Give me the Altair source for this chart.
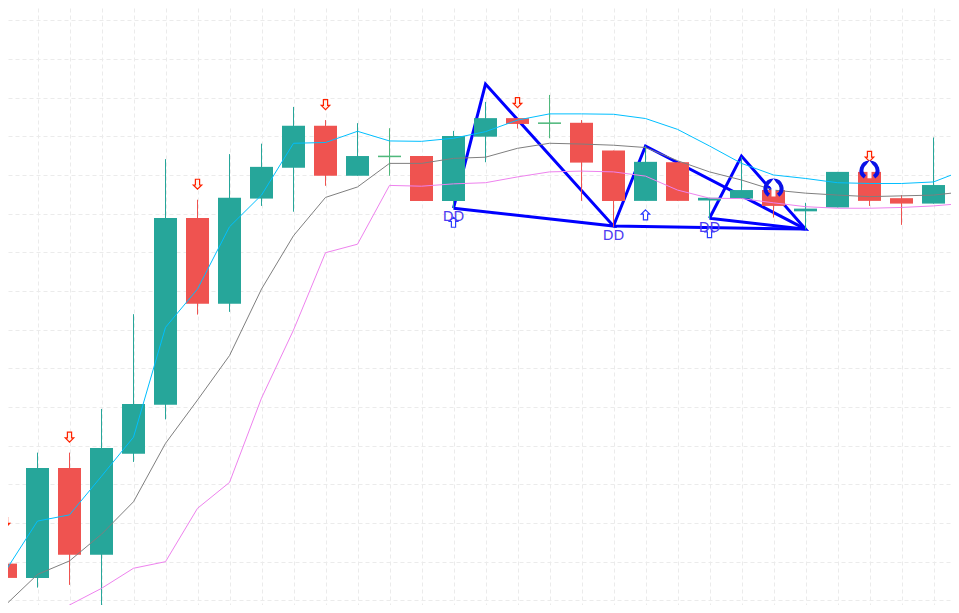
import altair as alt
import pandas as pd

# ---------------- data ----------------
idx = list(range(31))
opens  = [100.95, 100.58, 103.42, 101.18, 103.79, 105.06, 109.89, 107.67, 110.39, 111.19,
          112.27, 110.98, 111.46, 111.49, 110.33, 111.99, 112.47, 112.32, 112.35, 111.63,
          110.33, 111.33, 110.34, 110.39, 110.61, 110.06, 110.16, 111.08, 110.40, 110.26, 110.74]
highs  = [101.61, 103.82, 103.82, 104.95, 107.40, 111.41, 110.36, 111.54, 111.81, 112.76,
          112.42, 112.34, 112.21, 111.49, 112.14, 112.89, 112.47, 113.07, 112.42, 111.63,
          111.75, 111.33, 110.41, 111.46, 110.61, 110.28, 111.08, 111.08, 110.48, 111.97, 110.97]
lows   = [100.47, 100.33, 100.40, 99.75, 103.58, 104.68, 107.39, 107.46, 110.20, 110.05,
          110.72, 110.98, 110.98, 110.33, 110.14, 111.33, 112.20, 111.95, 110.33, 109.66,
          110.33, 110.33, 109.87, 110.39, 109.90, 109.59, 110.16, 110.20, 109.71, 110.26, 110.74]
closes = [100.58, 103.42, 101.18, 103.94, 105.08, 109.89, 107.67, 110.41, 111.21, 112.27,
          110.98, 111.49, 111.50, 110.33, 112.01, 112.47, 112.32, 112.36, 111.32, 110.33,
          111.34, 110.33, 110.41, 110.61, 110.20, 110.13, 111.08, 110.33, 110.26, 110.74, 110.95]
neutral_bars = [12, 17]

ma_fast = [100.76, 102.05, 102.21, 103.21, 104.22, 107.06, 108.05, 109.66, 110.48, 111.82,
           111.84, 112.13, 111.88, 111.87, 111.95, 112.12, 112.42, 112.58, 112.58, 112.57,
           112.46, 112.18, 111.75, 111.30, 111.00, 110.91, 110.80, 110.78, 110.78, 110.82, 111.14]
ma_mid  = [99.88, 100.67, 101.02, 101.71, 102.55, 104.06, 105.18, 106.33, 108.05, 109.43,
           110.42, 110.69, 111.30, 111.30, 111.43, 111.46, 111.69, 111.82, 111.80, 111.77,
           111.71, 111.37, 111.08, 110.87, 110.61, 110.53, 110.48, 110.44, 110.46, 110.48, 110.57]
ma_slow = [98.71, 99.31, 99.88, 100.31, 100.83, 101.00, 102.38, 103.05, 105.23, 106.99,
           108.99, 109.21, 110.73, 110.71, 110.77, 110.80, 110.95, 111.08, 111.10, 111.08,
           110.97, 110.61, 110.40, 110.39, 110.28, 110.18, 110.14, 110.14, 110.16, 110.20, 110.27]

# harmonic-pattern triangles (closed)
tri_group = [1, 1, 1, 1, 2, 2, 2, 2, 3, 3, 3, 3]
tri_order = [0, 1, 2, 3, 0, 1, 2, 3, 0, 1, 2, 3]
tri_x = [14, 15, 19, 14, 19, 20, 25, 19, 22, 23, 25, 22]
tri_y = [110.14, 113.35, 109.68, 110.14, 109.68, 111.75, 109.60, 109.68, 109.88, 111.49, 109.60, 109.88]

dd_bars = [14, 19, 22]
dd_text = ["DD", "DD", "DD"]
down_arrow_bars = [0, 2, 6, 10, 16, 27]
up_arrow_bars = [14, 20, 22]
ring_bars = [24, 27]

x_grid = list(range(0, 31))
y_grid = list(range(99, 117))

# ---------------- layout ----------------
W, H = 943, 597
PX_X = 32.0
PX_Y = 38.67
XMIN = 2.5 / PX_X
XMAX = XMIN + W / PX_X
YMAX = 115 + 12.3 / PX_Y
YMIN = YMAX - H / PX_Y

df = pd.DataFrame({"i": idx, "o": opens, "h": highs, "l": lows, "c": closes,
                   "fast": ma_fast, "mid": ma_mid, "slow": ma_slow})
df["dir"] = ["up" if c > o else "down" for o, c in zip(opens, closes)]
df.loc[df["i"].isin(neutral_bars), "dir"] = "flat"

tri = pd.DataFrame({"g": tri_group, "k": tri_order, "i": tri_x, "p": tri_y})
dd = pd.DataFrame({"i": dd_bars, "t": dd_text})
dd["l"] = [lows[k] for k in dd_bars]
dn = pd.DataFrame({"i": down_arrow_bars, "h": [highs[k] for k in down_arrow_bars]})
up = pd.DataFrame({"i": up_arrow_bars, "l": [lows[k] for k in up_arrow_bars]})
rg = pd.DataFrame({"i": ring_bars, "o": [opens[k] for k in ring_bars]})

xs = alt.Scale(domain=[XMIN, XMAX], nice=False, zero=False, padding=0)
ys = alt.Scale(domain=[YMIN, YMAX], nice=False, zero=False, padding=0)
grid_kw = dict(grid=True, labels=False, ticks=False, domain=False, title=None,
               gridDash=[4, 3], gridColor="#ebebeb", gridWidth=1)
xax = alt.Axis(values=x_grid, **grid_kw)
yax = alt.Axis(values=y_grid, **grid_kw)


def X(f="i"):
    return alt.X(f"{f}:Q", scale=xs, axis=xax)


def Y(f):
    return alt.Y(f"{f}:Q", scale=ys, axis=yax)


col = alt.Color("dir:N", legend=None,
                scale=alt.Scale(domain=["up", "down", "flat"],
                                range=["#26a69a", "#ef5350", "#4fb87c"]))

triangles = alt.Chart(tri).mark_line(color="#0000ff", strokeWidth=3, clip=True).encode(
    x=X(), y=Y("p"), detail="g:N", order="k:Q")

wicks = alt.Chart(df).mark_rule(strokeWidth=1, clip=True).encode(
    x=X(), y=Y("l"), y2="h:Q", color=col)
bodies = alt.Chart(df).mark_bar(size=23, clip=True).encode(
    x=X(), y=Y("o"), y2="c:Q", color=col)

fast = alt.Chart(df).mark_line(color="#00bfff", strokeWidth=1, clip=True).encode(x=X(), y=Y("fast"))
mid = alt.Chart(df).mark_line(color="#7f7f7f", strokeWidth=1, clip=True).encode(x=X(), y=Y("mid"))
slow = alt.Chart(df).mark_line(color="#ee82ee", strokeWidth=1, clip=True).encode(x=X(), y=Y("slow"))

DOWN = "M -0.42 -4.1 L 0.42 -4.1 L 0.42 -2.95 L 0.85 -2.95 L 0 -2.1 L -0.85 -2.95 L -0.42 -2.95 Z"
UP = "M 0 1.8 L 0.85 2.65 L 0.42 2.65 L 0.42 3.8 L -0.42 3.8 L -0.42 2.65 L -0.85 2.65 Z"
RING = "M -1.147 1.263 A 2 2 0 1 1 1.147 1.263"
RING_ARROW = "M 0 -2.85 L 1.3 -1.1 L 0.5 -1.1 L 0.5 1.6 L -0.5 1.6 L -0.5 -1.1 L -1.3 -1.1 Z"

down_arrows = alt.Chart(dn).mark_point(shape=DOWN, size=100, filled=True, fill="#fff3ea",
                                       stroke="#ff2200", strokeWidth=1.2, opacity=1,
                                       clip=True).encode(x=X(), y=Y("h"))
up_arrows = alt.Chart(up).mark_point(shape=UP, size=100, filled=True, fill="#ffffff",
                                     stroke="#2a3cff", strokeWidth=1.2, opacity=1,
                                     clip=True).encode(x=X(), y=Y("l"))
rings = alt.Chart(rg).mark_point(shape=RING, size=64, filled=False, stroke="#0a12e6",
                                 strokeWidth=4, opacity=1, clip=True).encode(x=X(), y=Y("o"))
ring_arrows = alt.Chart(rg).mark_point(shape=RING_ARROW, size=64, filled=True, fill="#ffffff",
                                       strokeWidth=0, opacity=1, clip=True).encode(x=X(), y=Y("o"))

dd_labels = alt.Chart(dd).mark_text(font="DejaVu Sans", fontSize=14, color="#4e3cf2", dy=9,
                                    align="center", baseline="middle", clip=True).encode(
    x=X(), y=Y("l"), text="t:N")

chart = alt.layer(triangles, wicks, bodies, fast, mid, slow,
                  down_arrows, up_arrows, rings, ring_arrows, dd_labels).properties(
    width=W, height=H, padding=0, autosize=alt.AutoSizeParams(type="none"),
    background="#ffffff"
).configure_view(strokeWidth=0)

chart.save("out.html", embed_options={"renderer": "svg", "actions": False})
